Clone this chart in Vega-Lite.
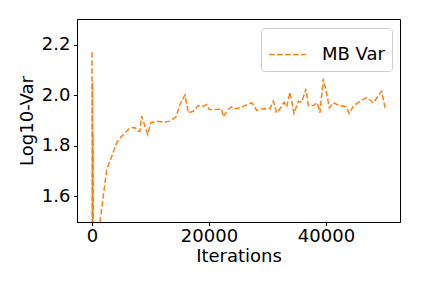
{
  "$schema": "https://vega.github.io/schema/vega-lite/v6.json",
  "width": 323,
  "height": 203,
  "autosize": {"type": "none"},
  "padding": {"left": 77, "top": 19, "right": 32, "bottom": 66},
  "config": {
    "view": {"stroke": "black", "strokeWidth": 1},
    "font": "DejaVu Sans",
    "axis": {
      "grid": false,
      "domainColor": "black",
      "tickColor": "black",
      "tickSize": 3.5,
      "labelFontSize": 18,
      "labelColor": "black",
      "titleFontSize": 18,
      "titleFontWeight": "normal",
      "titleColor": "black",
      "labelFont": "DejaVu Sans",
      "titleFont": "DejaVu Sans"
    },
    "legend": {"labelFont": "DejaVu Sans"}
  },
  "data": {
    "values": [
      {"it": 0, "v": 2.17, "s": "MB Var"},
      {"it": 40, "v": 1.2, "s": "MB Var"},
      {"it": 80, "v": 2.05, "s": "MB Var"},
      {"it": 130, "v": 1.3, "s": "MB Var"},
      {"it": 180, "v": 1.85, "s": "MB Var"},
      {"it": 250, "v": 1.2, "s": "MB Var"},
      {"it": 1000, "v": 1.43, "s": "MB Var"},
      {"it": 2510, "v": 1.705, "s": "MB Var"},
      {"it": 3370, "v": 1.757, "s": "MB Var"},
      {"it": 4220, "v": 1.812, "s": "MB Var"},
      {"it": 5075, "v": 1.837, "s": "MB Var"},
      {"it": 6500, "v": 1.87, "s": "MB Var"},
      {"it": 7350, "v": 1.872, "s": "MB Var"},
      {"it": 7750, "v": 1.857, "s": "MB Var"},
      {"it": 8200, "v": 1.857, "s": "MB Var"},
      {"it": 8480, "v": 1.917, "s": "MB Var"},
      {"it": 9060, "v": 1.877, "s": "MB Var"},
      {"it": 9520, "v": 1.844, "s": "MB Var"},
      {"it": 10030, "v": 1.89, "s": "MB Var"},
      {"it": 11050, "v": 1.897, "s": "MB Var"},
      {"it": 12190, "v": 1.893, "s": "MB Var"},
      {"it": 13330, "v": 1.897, "s": "MB Var"},
      {"it": 14360, "v": 1.914, "s": "MB Var"},
      {"it": 15040, "v": 1.963, "s": "MB Var"},
      {"it": 15900, "v": 2.001, "s": "MB Var"},
      {"it": 16460, "v": 1.93, "s": "MB Var"},
      {"it": 17320, "v": 1.936, "s": "MB Var"},
      {"it": 18170, "v": 1.959, "s": "MB Var"},
      {"it": 19030, "v": 1.956, "s": "MB Var"},
      {"it": 19600, "v": 1.963, "s": "MB Var"},
      {"it": 20050, "v": 1.943, "s": "MB Var"},
      {"it": 21300, "v": 1.943, "s": "MB Var"},
      {"it": 22170, "v": 1.946, "s": "MB Var"},
      {"it": 22440, "v": 1.914, "s": "MB Var"},
      {"it": 23300, "v": 1.943, "s": "MB Var"},
      {"it": 23870, "v": 1.954, "s": "MB Var"},
      {"it": 24730, "v": 1.946, "s": "MB Var"},
      {"it": 26150, "v": 1.959, "s": "MB Var"},
      {"it": 27300, "v": 1.97, "s": "MB Var"},
      {"it": 28150, "v": 1.94, "s": "MB Var"},
      {"it": 29290, "v": 1.946, "s": "MB Var"},
      {"it": 30430, "v": 1.946, "s": "MB Var"},
      {"it": 31000, "v": 1.976, "s": "MB Var"},
      {"it": 31570, "v": 1.93, "s": "MB Var"},
      {"it": 32250, "v": 1.95, "s": "MB Var"},
      {"it": 32820, "v": 1.972, "s": "MB Var"},
      {"it": 33280, "v": 1.954, "s": "MB Var"},
      {"it": 33850, "v": 2.012, "s": "MB Var"},
      {"it": 34530, "v": 1.927, "s": "MB Var"},
      {"it": 35270, "v": 1.976, "s": "MB Var"},
      {"it": 35840, "v": 1.972, "s": "MB Var"},
      {"it": 36580, "v": 2.025, "s": "MB Var"},
      {"it": 36980, "v": 1.959, "s": "MB Var"},
      {"it": 37830, "v": 1.959, "s": "MB Var"},
      {"it": 38510, "v": 1.97, "s": "MB Var"},
      {"it": 38970, "v": 1.93, "s": "MB Var"},
      {"it": 39540, "v": 2.065, "s": "MB Var"},
      {"it": 40110, "v": 2.008, "s": "MB Var"},
      {"it": 40560, "v": 1.95, "s": "MB Var"},
      {"it": 41250, "v": 1.97, "s": "MB Var"},
      {"it": 42270, "v": 1.959, "s": "MB Var"},
      {"it": 43420, "v": 1.954, "s": "MB Var"},
      {"it": 43980, "v": 1.927, "s": "MB Var"},
      {"it": 44670, "v": 1.956, "s": "MB Var"},
      {"it": 45810, "v": 1.976, "s": "MB Var"},
      {"it": 46950, "v": 1.99, "s": "MB Var"},
      {"it": 48090, "v": 1.97, "s": "MB Var"},
      {"it": 49520, "v": 2.016, "s": "MB Var"},
      {"it": 50090, "v": 1.95, "s": "MB Var"}
    ]
  },
  "mark": {"type": "line", "clip": true, "strokeWidth": 1.5, "strokeDash": [5.55, 2.4]},
  "encoding": {
    "x": {
      "field": "it", "type": "quantitative", "title": "Iterations",
      "scale": {"domain": [-2564, 52650], "nice": false, "zero": false},
      "axis": {"values": [0, 20000, 40000], "format": "d", "labelPadding": 1.5, "titlePadding": 2}
    },
    "y": {
      "field": "v", "type": "quantitative", "title": "Log10-Var",
      "scale": {"domain": [1.497, 2.302], "nice": false, "zero": false},
      "axis": {"values": [1.6, 1.8, 2.0, 2.2], "format": ".1f", "labelPadding": 3.5, "titlePadding": 5}
    },
    "color": {
      "field": "s", "type": "nominal",
      "scale": {"range": ["#ff7f0e"]},
      "legend": {
        "title": null,
        "orient": "none",
        "legendX": 184,
        "legendY": 9,
        "symbolType": "stroke",
        "symbolStrokeWidth": 1.5,
        "symbolDash": [5.55, 2.4],
        "symbolSize": 1347,
        "labelFontSize": 18,
        "labelColor": "black",
        "labelOffset": 15,
        "fillColor": "white",
        "strokeColor": "#cccccc",
        "cornerRadius": 3,
        "padding": 7
      }
    }
  }
}
